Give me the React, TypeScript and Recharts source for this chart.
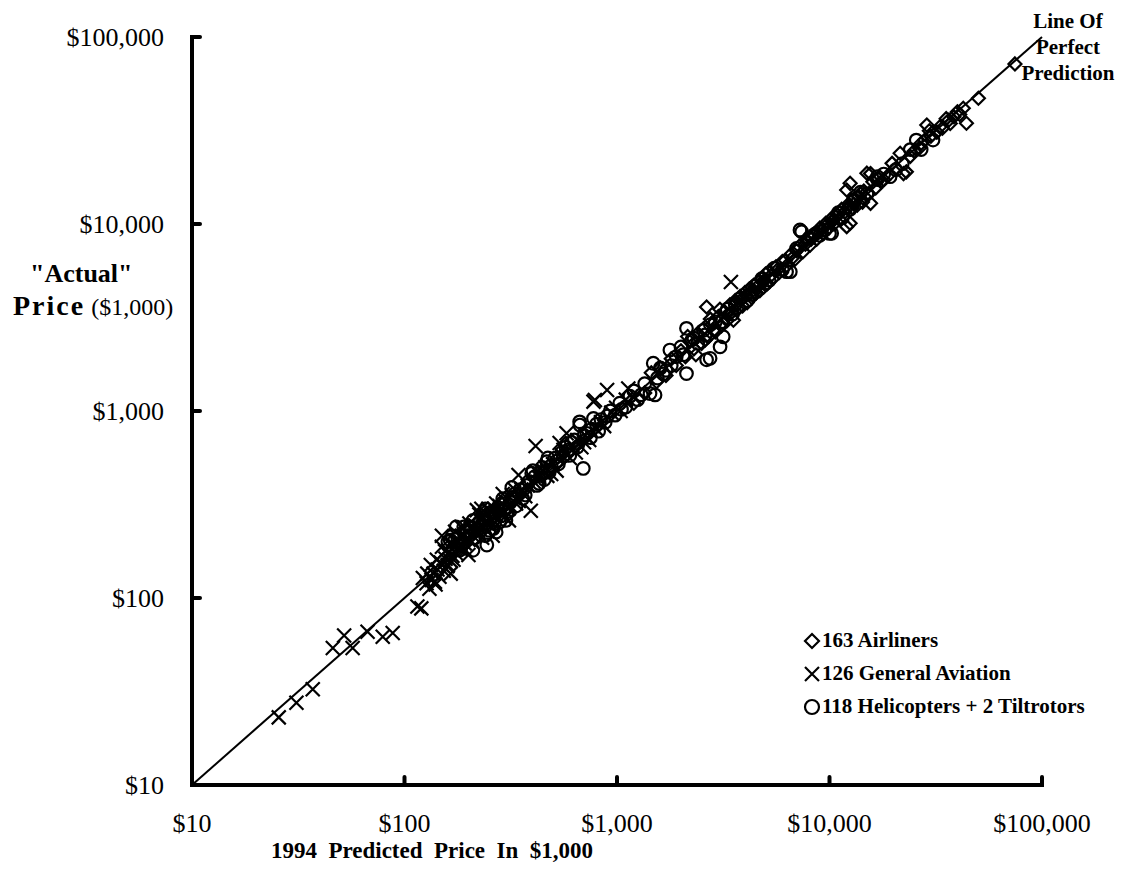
import React from "react";
import { ScatterChart, Scatter, XAxis, YAxis, ReferenceLine } from "recharts";

// [1994 predicted price, "actual" price], both in $1,000
const airliners: [number, number][] = [
  [1200, 1100], [1350, 1250], [1450, 1600], [1535, 1435], [1600, 1700], [1700, 1550],
  [1800, 1900], [1900, 1750], [2000, 2100], [2100, 1950], [2150, 2500], [2200, 2350],
  [2300, 2150], [2350, 2000], [2400, 2600], [2500, 2300], [2550, 2750], [2600, 2400],
  [2640, 3600], [2700, 2500], [2750, 3100], [2800, 2900], [2850, 2700], [2900, 2650],
  [3000, 3200], [3050, 3500], [3100, 2850], [3150, 2950], [3200, 3400], [3300, 3050],
  [3350, 3250], [3400, 3700], [3450, 3350], [3530, 3060], [3600, 3900], [3650, 3800],
  [3700, 3500], [3750, 3600], [3800, 4100], [3850, 3950], [3900, 3650], [4000, 4300],
  [4050, 4150], [4100, 3800], [4200, 4500], [4250, 4300], [4300, 4050], [4400, 4700],
  [4450, 4350], [4500, 4250], [4600, 4900], [4650, 4700], [4700, 4400], [4800, 5100],
  [4850, 4900], [4900, 4600], [5000, 5400], [5100, 4800], [5200, 5600], [5300, 5300],
  [5400, 5100], [5600, 5900], [5700, 5700], [5800, 5500], [6000, 6300], [6200, 6400],
  [6300, 6000], [6600, 6900], [6700, 6600], [6900, 6500], [7000, 7200], [7200, 7600],
  [7500, 7100], [7700, 7800], [7800, 8200], [8100, 7700], [8200, 8300], [8400, 8800],
  [8700, 8300], [8800, 9000], [9000, 9500], [9200, 9400], [9300, 8900], [9600, 10100],
  [9800, 10000], [9900, 9500], [10200, 10700], [10300, 10300], [10500, 10000],
  [10700, 10900], [10800, 11300], [11100, 10600], [11200, 11500], [11400, 12000],
  [11700, 11000], [11800, 11600], [12050, 9680], [12050, 15200], [12200, 12300],
  [12300, 12800], [12500, 16500], [12500, 10100], [12800, 12200], [13000, 12800],
  [13100, 13700], [13500, 12600], [13700, 14000], [14000, 14600], [14300, 13100],
  [14500, 15000], [14700, 13900], [15000, 18700], [15300, 14500], [15600, 12900],
  [15600, 18600], [16000, 16800], [16500, 15600], [17000, 17500], [17500, 16800],
  [18000, 17200], [19000, 18300], [19700, 21100], [20500, 19800], [21500, 23900],
  [22300, 18600], [23000, 19000], [24000, 23000], [25000, 24500], [26500, 25500],
  [27000, 27000], [28100, 28100], [28700, 33800], [29500, 31500], [30000, 29500],
  [32000, 31000], [33000, 33000], [34000, 32500], [35400, 36600], [36500, 36000],
  [37000, 34500], [38500, 37500], [40000, 39800], [41000, 38500], [42600, 41600],
  [44100, 34600], [50200, 47000], [74600, 71800],
];

const generalAviation: [number, number][] = [
  [25.6, 23], [31, 27.5], [37, 32.5], [46, 54], [52, 63], [57, 54], [67, 66], [79, 62],
  [88, 65], [115, 90], [120, 88], [122, 128], [127, 120], [128, 135], [131, 112],
  [133, 150], [134, 125], [137, 135], [139, 122], [140, 118], [142, 160], [143, 142],
  [146, 130], [148, 155], [150, 188], [150, 150], [150, 215], [153, 140], [155, 178],
  [156, 162], [159, 148], [160, 150], [162, 175], [164, 195], [165, 135], [165, 158],
  [168, 168], [170, 160], [172, 190], [173, 226], [176, 172], [178, 185], [180, 200],
  [184, 182], [185, 240], [186, 215], [188, 212], [192, 196], [194, 180], [196, 225],
  [200, 205], [200, 170], [202, 250], [205, 235], [208, 200], [210, 215], [214, 230],
  [215, 245], [219, 295], [222, 228], [225, 280], [228, 262], [230, 300], [232, 210],
  [234, 240], [238, 255], [240, 275], [246, 250], [248, 300], [252, 290], [255, 240],
  [258, 262], [260, 215], [262, 280], [265, 300], [270, 320], [272, 275], [280, 310],
  [285, 300], [288, 285], [290, 360], [295, 270], [298, 330], [308, 300], [310, 260],
  [315, 310], [320, 355], [330, 380], [335, 320], [344, 455], [345, 330], [355, 380],
  [370, 350], [380, 400], [393, 293], [405, 420], [414, 650], [420, 470], [430, 440],
  [450, 480], [460, 500], [470, 450], [490, 460], [500, 520], [520, 480], [537, 675],
  [550, 580], [560, 620], [579, 760], [600, 560], [620, 650], [640, 600], [650, 700],
  [680, 640], [700, 680], [710, 740], [740, 700], [775, 1122], [787, 1146], [800, 800],
  [840, 870], [870, 830], [898, 1294], [940, 980], [990, 1040], [1040, 1000],
  [1100, 1150], [1130, 1318], [1200, 1180], [3436, 4900],
];

const helicopters: [number, number][] = [
  [160, 200], [164, 204], [168, 215], [170, 185], [175, 240], [178, 210], [182, 180],
  [185, 195], [190, 240], [195, 225], [200, 215], [205, 240], [210, 260], [210, 180],
  [215, 210], [220, 230], [225, 255], [230, 245], [235, 270], [240, 215], [240, 300],
  [244, 192], [250, 230], [255, 270], [258, 290], [262, 235], [265, 250], [270, 285],
  [270, 225], [275, 305], [280, 255], [285, 275], [290, 340], [295, 320], [300, 300],
  [300, 260], [305, 290], [315, 325], [320, 345], [320, 390], [330, 360], [335, 310],
  [350, 380], [360, 340], [370, 355], [375, 400], [385, 420], [397, 465], [402, 480],
  [410, 445], [420, 400], [430, 410], [440, 470], [445, 500], [455, 430], [467, 536],
  [473, 561], [480, 470], [490, 510], [510, 560], [520, 540], [530, 520], [550, 600],
  [560, 575], [575, 640], [590, 620], [600, 580], [610, 680], [630, 700], [650, 640],
  [669, 841], [667, 875], [694, 493], [700, 740], [720, 760], [750, 720], [760, 800],
  [775, 912], [800, 850], [820, 780], [840, 900], [880, 870], [900, 940], [930, 1000],
  [980, 950], [1030, 1100], [1050, 1020], [1100, 1050], [1150, 1200], [1200, 1280],
  [1250, 1150], [1300, 1220], [1350, 1400], [1430, 1240], [1481, 1800], [1510, 1219],
  [1550, 1500], [1600, 1700], [1650, 1580], [1700, 1650], [1774, 2118], [1800, 1750],
  [1900, 1950], [2000, 2200], [2050, 2000], [2123, 1585], [2123, 2767], [2250, 2400],
  [2300, 2450], [2400, 2300], [2550, 2700], [2600, 2550], [2640, 1880], [2742, 1914],
  [2750, 2900], [2900, 3000], [3055, 2203], [3100, 3000], [3160, 2495], [3300, 3500],
  [3500, 3300], [3600, 3700], [3800, 4000], [4100, 3900], [4300, 4200], [4500, 4700],
  [4800, 5100], [5000, 4800], [5200, 5000], [5500, 5800], [6000, 5700], [6280, 5560],
  [6540, 5560], [7000, 7400], [7263, 9290], [7396, 9100], [8000, 8400], [8500, 8800],
  [9000, 8700], [9500, 9300], [10000, 8900], [10240, 8920], [11000, 11500],
  [11500, 10800], [12500, 12000], [13000, 13500], [14000, 14800], [15000, 14500],
  [16800, 17300], [16800, 17900], [18000, 18500], [19280, 17900], [20500, 19500],
  [22000, 21000], [24000, 25000], [25600, 28100], [27000, 25000], [30700, 28100],
];

const decadeTicks = [10, 100, 1000, 10000, 100000];
const tickLabels = ["$10", "$100", "$1,000", "$10,000", "$100,000"];
const legendLabels = ["163 Airliners", "126 General Aviation", "118 Helicopters + 2 Tiltrotors"];
const lineLabel = ["Line Of", "Perfect", "Prediction"];

const W = 1108;
const H = 862;
const FONT = '"Liberation Serif", "Times New Roman", serif';
const SW = 2.2;

const toPoints = (arr: [number, number][]) => arr.map(([x, y]) => ({ x, y }));

function Diamond({ cx, cy, s = 6.5 }: any) {
  return (
    <polygon
      points={`${cx},${cy - s} ${cx + s},${cy} ${cx},${cy + s} ${cx - s},${cy}`}
      fill="none"
      stroke="#000"
      strokeWidth={SW}
    />
  );
}

function Cross({ cx, cy, s = 7 }: any) {
  return (
    <path
      d={`M${cx - s},${cy - s}L${cx + s},${cy + s}M${cx - s},${cy + s}L${cx + s},${cy - s}`}
      fill="none"
      stroke="#000"
      strokeWidth={SW}
    />
  );
}

function Ring({ cx, cy, s = 6.3 }: any) {
  return <circle cx={cx} cy={cy} r={s} fill="none" stroke="#000" strokeWidth={SW} />;
}

function XTick({ x, y, payload }: any) {
  const i = decadeTicks.indexOf(payload.value);
  return (
    <g>
      {payload.value > 10 && (
        <line x1={x} x2={x} y1={y} y2={y - 8} stroke="#000" strokeWidth={4} strokeLinecap="round" />
      )}
      <text x={x} y={y + 47} textAnchor="middle" fontFamily={FONT} fontSize={26} fill="#000">
        {tickLabels[i]}
      </text>
    </g>
  );
}

function YTick({ x, y, payload }: any) {
  const i = decadeTicks.indexOf(payload.value);
  return (
    <g>
      {payload.value > 10 && (
        <line x1={x} x2={x + 8} y1={y} y2={y} stroke="#000" strokeWidth={4} strokeLinecap="round" />
      )}
      <text x={x - 28} y={y + 9} textAnchor="end" fontFamily={FONT} fontSize={26} fill="#000">
        {tickLabels[i]}
      </text>
    </g>
  );
}

export default function App() {
  const legendShapes = [Diamond, Cross, Ring];
  return (
    <div style={{ position: "relative", width: W, height: H, background: "#fff" }}>
      <ScatterChart width={W} height={H} margin={{ top: 29, right: 74, bottom: 0, left: 0 }}>
        <XAxis
          dataKey="x"
          type="number"
          scale="log"
          domain={[10, 100000]}
          ticks={decadeTicks}
          interval={0}
          allowDataOverflow
          height={85}
          tickSize={0}
          tickMargin={0}
          tickLine={false}
          axisLine={{ stroke: "#000", strokeWidth: 4, strokeLinecap: "square" }}
          tick={<XTick />}
        />
        <YAxis
          dataKey="y"
          type="number"
          scale="log"
          domain={[10, 100000]}
          ticks={decadeTicks}
          interval={0}
          allowDataOverflow
          width={184}
          tickSize={0}
          tickMargin={0}
          tickLine={false}
          axisLine={{ stroke: "#000", strokeWidth: 4, strokeLinecap: "square" }}
          tick={<YTick />}
        />
        <ReferenceLine
          segment={[{ x: 10, y: 10 }, { x: 100000, y: 100000 }]}
          stroke="#000"
          strokeWidth={2}
          ifOverflow="visible"
        />
        <Scatter data={toPoints(airliners)} shape={(p: any) => <Diamond cx={p.cx} cy={p.cy} />} isAnimationActive={false} />
        <Scatter data={toPoints(generalAviation)} shape={(p: any) => <Cross cx={p.cx} cy={p.cy} />} isAnimationActive={false} />
        <Scatter data={toPoints(helicopters)} shape={(p: any) => <Ring cx={p.cx} cy={p.cy} />} isAnimationActive={false} />
      </ScatterChart>

      <svg
        width={W}
        height={H}
        style={{ position: "absolute", left: 0, top: 0, pointerEvents: "none" }}
      >
        <g fontFamily={FONT} fill="#000">
          <text x={22} y={274} fontSize={26} fontWeight="bold">"Actual"</text>
          <text x={5} y={307}>
            <tspan fontSize={28} fontWeight="bold" letterSpacing={2}>Price</tspan>
            <tspan fontSize={24} dx={6}>($1,000)</tspan>
          </text>
          <text x={424} y={850} fontSize={23} fontWeight="bold" textAnchor="middle" style={{ whiteSpace: "pre" }}>
            1994  Predicted  Price  In  $1,000
          </text>
          {lineLabel.map((t, i) => (
            <text key={t} x={1060} y={20 + i * 26} fontSize={21} fontWeight="bold" textAnchor="middle">
              {t}
            </text>
          ))}
          {legendLabels.map((t, i) => {
            const Shape = legendShapes[i];
            const cy = 633 + i * 33;
            return (
              <g key={t}>
                <Shape cx={804} cy={cy} s={7} />
                <text x={814} y={cy + 6} fontSize={21} fontWeight="bold">
                  {t}
                </text>
              </g>
            );
          })}
        </g>
      </svg>
    </div>
  );
}
